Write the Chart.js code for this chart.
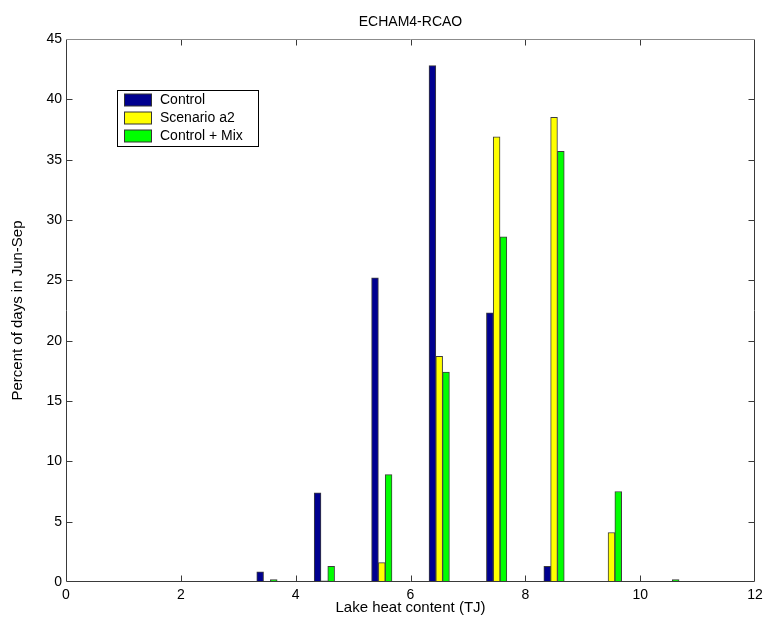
<!DOCTYPE html>
<html>
<head>
<meta charset="utf-8">
<script src="https://cdn.jsdelivr.net/npm/chart.js@4"></script>
<style>
    body { margin: 0; background: #fff; }
    canvas { display: block; }
</style>
</head>
<body>
<canvas id="chart" width="765" height="623"></canvas>
<script>
// bin centres (TJ) and percent of days per bin
const binCenters = [3.5, 4.5, 5.5, 6.5, 7.5, 8.5, 9.5, 10.5];
const controlValues = [0.85, 7.4, 25.2, 42.8, 22.3, 1.3, null, null];
const scenarioValues = [null, 0.1, 1.6, 18.7, 36.9, 38.5, 4.1, null];
const mixValues = [0.2, 1.3, 8.9, 17.4, 28.6, 35.7, 7.5, 0.2];
const seriesLabels = ["Control", "Scenario a2", "Control + Mix"];
const xTicks = [0, 2, 4, 6, 8, 10, 12];
const yTicks = [0, 5, 10, 15, 20, 25, 30, 35, 40, 45];

const FONT = "'Liberation Sans', Arial, sans-serif";
const colors = ["#00008f", "#ffff00", "#00ff00"];

function toPoints(values) {
    return binCenters.map((x, i) => ({ x: x, y: values[i] }));
}

// box around the plot with inward ticks on all four sides
const framePlugin = {
    id: "frame",
    afterDatasetsDraw(chart) {
        const { ctx, chartArea: a, scales } = chart;
        const left = Math.round(a.left) + 0.5;
        const right = Math.round(a.right) - 0.5;
        const top = Math.round(a.top) + 0.5;
        const bottom = Math.round(a.bottom) - 0.5;
        ctx.save();
        ctx.strokeStyle = "#3a3a3a";
        ctx.lineWidth = 1;
        ctx.beginPath();
        xTicks.slice(1, -1).forEach((v) => {
            const px = Math.round(scales.x.getPixelForValue(v)) + 0.5;
            ctx.moveTo(px, bottom);
            ctx.lineTo(px, bottom - 6);
            ctx.moveTo(px, top);
            ctx.lineTo(px, top + 6);
        });
        yTicks.slice(1, -1).forEach((v) => {
            const py = Math.round(scales.y.getPixelForValue(v)) + 0.5;
            ctx.moveTo(left, py);
            ctx.lineTo(left + 6, py);
            ctx.moveTo(right, py);
            ctx.lineTo(right - 6, py);
        });
        ctx.stroke();
        ctx.beginPath();
        ctx.moveTo(left, top);
        ctx.lineTo(left, bottom);
        ctx.lineTo(right, bottom);
        ctx.lineTo(right, top);
        ctx.stroke();
        ctx.strokeStyle = "#8c8c8c";
        ctx.beginPath();
        ctx.moveTo(left, top);
        ctx.lineTo(right, top);
        ctx.stroke();
        ctx.restore();
    },
};

// legend box inside the plot, top left
const boxLegend = {
    id: "boxLegend",
    afterDraw(chart) {
        const ctx = chart.ctx;
        const x0 = 117.5, y0 = 90.5, w = 141, h = 56;
        ctx.save();
        ctx.fillStyle = "#fff";
        ctx.fillRect(x0, y0, w, h);
        ctx.strokeStyle = "#000";
        ctx.lineWidth = 1;
        ctx.strokeRect(x0, y0, w, h);
        ctx.font = "14px " + FONT;
        ctx.textBaseline = "middle";
        chart.data.datasets.forEach((ds, i) => {
            const cy = 100 + i * 18;
            ctx.fillStyle = ds.backgroundColor;
            ctx.fillRect(124.5, cy - 6, 27, 12);
            ctx.strokeStyle = "#333";
            ctx.strokeRect(124.5, cy - 6, 27, 12);
            ctx.fillStyle = "#000";
            ctx.fillText(ds.label, 160, cy + 0.5);
        });
        ctx.restore();
    },
};

const ctx = document.getElementById("chart").getContext("2d");

new Chart(ctx, {
    type: "bar",
    data: {
        datasets: [
            { label: seriesLabels[0], data: toPoints(controlValues), backgroundColor: colors[0] },
            { label: seriesLabels[1], data: toPoints(scenarioValues), backgroundColor: colors[1] },
            { label: seriesLabels[2], data: toPoints(mixValues), backgroundColor: colors[2] },
        ].map((ds) => Object.assign(ds, {
            borderColor: "#3c3c3c",
            borderWidth: 1,
            borderSkipped: false,
            barThickness: 6.8,
        })),
    },
    options: {
        responsive: false,
        animation: false,
        layout: { padding: { left: 0, right: 10, top: 0, bottom: 0 } },
        plugins: {
            legend: { display: false },
            tooltip: { enabled: false },
            title: {
                display: true,
                text: "ECHAM4-RCAO",
                fullSize: false,
                color: "#000",
                font: { family: FONT, size: 14, weight: "normal", lineHeight: 1.2 },
                padding: { top: 13.6, bottom: 8.6 },
            },
        },
        scales: {
            x: {
                type: "linear",
                min: 0,
                max: 12,
                offset: false,
                grid: { display: false, drawTicks: false, offset: false },
                border: { display: false },
                afterBuildTicks: (scale) => {
                    scale.ticks = xTicks.map((v) => ({ value: v }));
                },
                afterFit: (scale) => {
                    scale.height = 41;
                    scale.paddingRight = 0;
                },
                ticks: {
                    color: "#000",
                    padding: 5,
                    maxRotation: 0,
                    font: { family: FONT, size: 14 },
                },
                title: {
                    display: true,
                    text: "Lake heat content (TJ)",
                    color: "#000",
                    font: { family: FONT, size: 15, lineHeight: 1.2 },
                    padding: { top: 0, bottom: 6 },
                },
            },
            y: {
                min: 0,
                max: 45,
                grid: { display: false, drawTicks: false },
                border: { display: false },
                afterBuildTicks: (scale) => {
                    scale.ticks = yTicks.map((v) => ({ value: v }));
                },
                afterFit: (scale) => {
                    scale.width = 66;
                    scale.paddingTop = 0;
                    scale.paddingBottom = 0;
                },
                ticks: {
                    color: "#000",
                    padding: 4,
                    font: { family: FONT, size: 14 },
                },
                title: {
                    display: true,
                    text: "Percent of days in Jun-Sep",
                    color: "#000",
                    font: { family: FONT, size: 15, lineHeight: 1.2 },
                    padding: { top: 9, bottom: 0 },
                },
            },
        },
    },
    plugins: [framePlugin, boxLegend],
});
</script>
</body>
</html>
